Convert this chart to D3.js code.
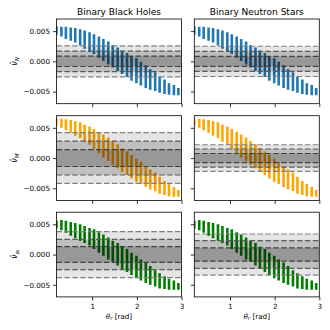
<!DOCTYPE html>
<html>
<head>
<meta charset="UTF-8">
<title>Residuals vs theta</title>
<script src="https://cdn.jsdelivr.net/npm/d3@7"></script>
<style>
  body { margin: 0; background: #fff; }
  svg text { font-family: "DejaVu Sans", sans-serif; fill: #000; }
</style>
</head>
<body>
<div id="chart"></div>
<script>
// angle of each error bar (rad)
const theta = [0.20, 0.31, 0.41, 0.52, 0.62, 0.73, 0.83, 0.94, 1.04, 1.15, 1.25, 1.36, 1.46, 1.57,
               1.67, 1.78, 1.88, 1.99, 2.09, 2.20, 2.30, 2.41, 2.51, 2.62, 2.72, 2.83, 2.93];

// row 1 (blue)
const nuN_hi = [0.0058, 0.0057, 0.0057, 0.0056, 0.0055, 0.0053, 0.0051, 0.0048, 0.0045, 0.0041, 0.0037, 0.0033, 0.0027, 0.0023,
                0.0018, 0.0014, 0.0009, 0.0005, -0.00005, -0.00065, -0.0013, -0.0018, -0.0025, -0.0030, -0.0036, -0.0039, -0.0044];
const nuN_lo = [0.0044, 0.0041, 0.0037, 0.0034, 0.0031, 0.0026, 0.0021, 0.0016, 0.0012, 0.0006, 0.00005, -0.0005, -0.0010, -0.0016,
                -0.0021, -0.0026, -0.0032, -0.0036, -0.0040, -0.0044, -0.0047, -0.0049, -0.0052, -0.0054, -0.0055, -0.0056, -0.0056];

// row 2 (orange)
const nuM_hi = [0.0065, 0.0065, 0.0064, 0.0063, 0.0061, 0.0059, 0.0055, 0.0052, 0.0048, 0.0043, 0.0039, 0.0034, 0.0028, 0.0023,
                0.0016, 0.0011, 0.0005, -0.0001, -0.00065, -0.0014, -0.0019, -0.0024, -0.0031, -0.0038, -0.0043, -0.0048, -0.0053];
const nuM_lo = [0.0054, 0.0050, 0.0046, 0.0042, 0.0037, 0.0033, 0.0027, 0.0022, 0.0015, 0.0008, 0.0001, -0.0005, -0.0011, -0.0017,
                -0.0023, -0.0028, -0.0034, -0.0039, -0.0043, -0.0048, -0.0052, -0.0055, -0.0059, -0.0061, -0.0063, -0.0064, -0.0064];

// row 3 (green)
const nuA_hi = [0.0056, 0.0057, 0.0056, 0.0054, 0.0052, 0.0050, 0.0047, 0.0044, 0.0042, 0.0037, 0.0033, 0.0028, 0.0023, 0.0019,
                0.0013, 0.0009, 0.0003, -0.0002, -0.0008, -0.0013, -0.0019, -0.0026, -0.0031, -0.0036, -0.0040, -0.0043, -0.0047];
const nuA_lo = [0.0043, 0.0040, 0.0036, 0.0031, 0.0027, 0.0023, 0.0019, 0.0015, 0.0009, 0.0003, -0.0002, -0.0008, -0.0012, -0.0018,
                -0.0024, -0.0029, -0.0034, -0.0039, -0.0043, -0.0047, -0.0050, -0.0053, -0.0056, -0.0057, -0.0058, -0.0058, -0.0058];

// shaded bands (outer, middle, inner half-widths): [black holes, neutron stars]
const bandN = [[0.00255, 0.0017, 0.00085], [0.0025, 0.00165, 0.00082]];
const bandM = [[0.0042, 0.0028, 0.0014], [0.0022, 0.0015, 0.00075]];
const bandA = [[0.0038, 0.0025, 0.0013], [0.0034, 0.0023, 0.0011]];

const columns = ["Binary Black Holes", "Binary Neutron Stars"];
const xTicks = [1, 2, 3];
const yTicks = [0.005, 0, -0.005];

const rows = [
  {hi: nuN_hi, lo: nuN_lo, bands: bandN, color: "#1f77b4", sub: "N", subsub: null},
  {hi: nuM_hi, lo: nuM_lo, bands: bandM, color: "#ffa500", sub: "M", subsub: null},
  {hi: nuA_hi, lo: nuA_lo, bands: bandA, color: "#008000", sub: "a", subsub: "l"}
];

const W = 330, H = 330;
const colX = [56.5, 194.3], panelW = 125;
const rowY = [19, 115.7, 212.2], panelH = 84.7;
const bandAlpha = [0.1, 0.17, 0.2];
const lineColor = ["#808080", "#5a5a5a", "#404040"];

const svg = d3.select("#chart").append("svg")
    .attr("width", W).attr("height", H);

const fmt = d => d3.format(".3f")(d).replace("-", "\u2212");

rows.forEach((r, ri) => {
  columns.forEach((c, ci) => {
    const x = d3.scaleLinear().domain([0.2, 3.0]).range([colX[ci], colX[ci] + panelW]);
    const y = d3.scaleLinear().domain([-0.007, 0.007]).range([rowY[ri] + panelH, rowY[ri]]);
    const id = "clip" + ri + ci;
    svg.append("clipPath").attr("id", id).append("rect")
      .attr("x", colX[ci]).attr("y", rowY[ri]).attr("width", panelW).attr("height", panelH);
    const g = svg.append("g").attr("clip-path", "url(#" + id + ")");

    // error bars
    g.selectAll("line.bar").data(theta).join("line")
      .attr("class", "bar")
      .attr("x1", d => x(d)).attr("x2", d => x(d))
      .attr("y1", (d, i) => y(r.lo[i])).attr("y2", (d, i) => y(r.hi[i]))
      .attr("stroke", r.color).attr("stroke-width", 2.6);

    // bands on top
    r.bands[ci].forEach((s, k) => {
      g.append("rect")
        .attr("x", colX[ci]).attr("width", panelW)
        .attr("y", y(s)).attr("height", y(-s) - y(s))
        .attr("fill", "#000").attr("fill-opacity", bandAlpha[k]);
    });
    r.bands[ci].forEach((s, k) => {
      [s, -s].forEach(v => {
        g.append("line")
          .attr("x1", colX[ci]).attr("x2", colX[ci] + panelW)
          .attr("y1", y(v)).attr("y2", y(v))
          .attr("stroke", lineColor[k]).attr("stroke-width", 1.2)
          .attr("stroke-dasharray", "5.5,2.4");
      });
    });

    // axes
    const xa = d3.axisBottom(x).tickValues(xTicks).tickSize(3.5).tickPadding(3.2)
      .tickFormat(ri === 2 ? d3.format("d") : "");
    const ya = d3.axisLeft(y).tickValues(yTicks).tickSize(3.5).tickPadding(3)
      .tickFormat(ci === 0 ? fmt : "");
    const gx = svg.append("g").attr("transform", "translate(0," + (rowY[ri] + panelH) + ")").call(xa);
    const gy = svg.append("g").attr("transform", "translate(" + colX[ci] + ",0)").call(ya);
    [gx, gy].forEach(a => {
      a.select(".domain").remove();
      a.selectAll(".tick line").attr("stroke", "#000").attr("stroke-width", 0.8);
      a.selectAll("text").attr("font-size", 7.2).attr("fill", "#000")
        .style("font-family", "DejaVu Sans, sans-serif");
    });

    svg.append("rect")
      .attr("x", colX[ci]).attr("y", rowY[ri]).attr("width", panelW).attr("height", panelH)
      .attr("fill", "none").attr("stroke", "#000").attr("stroke-width", 0.8);

    if (ri === 0) {
      svg.append("text")
        .attr("x", colX[ci] + panelW / 2).attr("y", 14.8)
        .attr("text-anchor", "middle").attr("font-size", 9)
        .text(c);
    }
    if (ri === 2) {
      const t = svg.append("text")
        .attr("x", colX[ci] + panelW / 2).attr("y", 319)
        .attr("text-anchor", "middle").attr("font-size", 7.2);
      t.append("tspan").attr("font-style", "italic").text("\u03b8");
      t.append("tspan").attr("font-style", "italic").attr("font-size", 5.2).attr("dy", 1.2).text("r");
      t.append("tspan").attr("dy", -1.2).text(" [rad]");
    }
  });

  // y label
  const yl = svg.append("text")
    .attr("transform", "translate(17," + (rowY[ri] + panelH / 2) + ") rotate(-90)")
    .attr("text-anchor", "middle").attr("font-size", 8);
  yl.append("tspan").attr("font-style", "italic").text("\u03bd\u0302");
  yl.append("tspan").attr("font-style", "italic").attr("font-size", 5.6).attr("dy", 1.6).text(r.sub);
  if (r.subsub) {
    yl.append("tspan").attr("font-style", "italic").attr("font-size", 4.2).attr("dy", 1).text(r.subsub);
  }
});
</script>
</body>
</html>
